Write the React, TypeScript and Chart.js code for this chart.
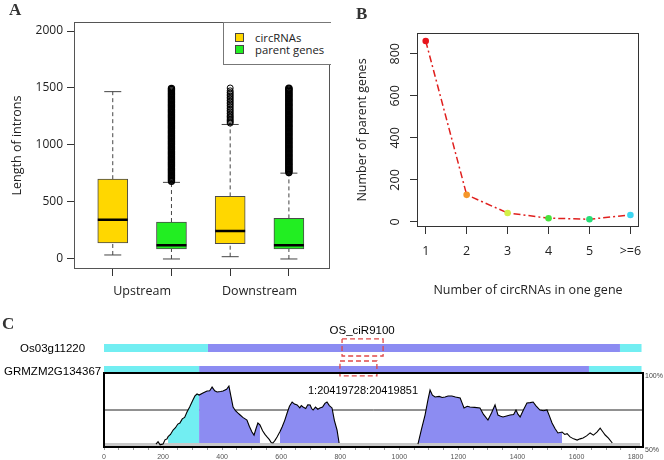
import React, { useEffect, useRef } from 'react';
import { Chart, registerables } from 'chart.js';
Chart.register(...registerables);

const SANS = '"Open Sans", "DejaVu Sans", sans-serif';
const ARIAL = '"Liberation Sans", Arial, sans-serif';
const SERIF = '"Liberation Serif", "DejaVu Serif", serif';

// ---------------- Panel A: intron length box plots ----------------
const A_GROUPS = ['Upstream', 'Downstream'];
const A_SERIES = ['circRNAs', 'parent genes'];
const A_COLORS = ['#FFD700', '#22EE22'];
const A_BOX_SERIES = [0, 1, 0, 1];
const A_LOW = [35, 0, 20, 0];
const A_Q1 = [140, 88, 134, 88];
const A_MEDIAN = [344, 120, 245, 120];
const A_Q3 = [700, 324, 549, 356];
const A_HIGH = [1468, 672, 1180, 753];
const A_OUT_UP_CIRC: number[] = [];
const A_OUT_UP_PARENT = [682, 693, 705, 716, 728, 739, 751, 762, 774, 785, 797, 808, 820, 831, 843, 854, 866, 877, 889, 900, 912, 923, 935, 946, 958, 969, 981, 992, 1004, 1015, 1027, 1038, 1050, 1061, 1073, 1084, 1096, 1107, 1119, 1130, 1142, 1153, 1165, 1176, 1188, 1199, 1211, 1222, 1234, 1245, 1257, 1268, 1280, 1291, 1303, 1314, 1326, 1337, 1349, 1360, 1372, 1383, 1395, 1406, 1418, 1429, 1441, 1452, 1464, 1475, 1487, 1497];
const A_OUT_DOWN_CIRC = [1192, 1203, 1214, 1226, 1238, 1250, 1262, 1276, 1290, 1304, 1318, 1333, 1348, 1362, 1376, 1390, 1404, 1418, 1432, 1446, 1460, 1475, 1500];
const A_OUT_DOWN_PARENT = [758, 769, 781, 792, 804, 815, 827, 838, 850, 861, 873, 884, 896, 907, 919, 930, 942, 953, 965, 976, 988, 999, 1011, 1022, 1034, 1045, 1057, 1068, 1080, 1091, 1103, 1114, 1126, 1137, 1149, 1160, 1172, 1183, 1195, 1206, 1218, 1229, 1241, 1252, 1264, 1275, 1287, 1298, 1310, 1321, 1333, 1344, 1356, 1367, 1379, 1390, 1402, 1413, 1425, 1436, 1448, 1459, 1471, 1482, 1492, 1499];
const A_OUTLIERS = [A_OUT_UP_CIRC, A_OUT_UP_PARENT, A_OUT_DOWN_CIRC, A_OUT_DOWN_PARENT];
const A_Y_TICKS = [0, 500, 1000, 1500, 2000];
const A_Y_TITLE = 'Length of introns';

// ---------------- Panel B: circRNAs per parent gene ----------------
const B_LABELS = ['1', '2', '3', '4', '5', '>=6'];
const B_VALUES = [861, 129, 43, 18, 13, 33];
const B_COLORS = ['#E8141C', '#F5962A', '#D2F048', '#48E23C', '#26DE78', '#3CD6F2'];
const B_Y_TICKS = [0, 200, 400, 600, 800];
const B_X_TITLE = 'Number of circRNAs in one gene';
const B_Y_TITLE = 'Number of parent genes';

// ---------------- Panel C: conservation plot ----------------
const C_GENES = ['Os03g11220', 'GRMZM2G134367'];
const C_GENE1_BOUNDS = [0, 352, 1747, 1820]; // UTR | CDS | UTR
const C_GENE2_BOUNDS = [0, 322, 1642, 1820];
const C_CIRC_NAME = 'OS_ciR9100';
const C_CIRC_LOCUS = '1:20419728:20419851';
const C_CIRC_SPAN1 = [806, 945];
const C_CIRC_SPAN2 = [799, 924];
const C_POS = [176, 183, 190, 200, 207, 213, 217, 225, 234, 242, 250, 257, 265, 273, 281, 290, 301, 308, 315, 322, 335, 349, 358, 366, 375, 383, 395, 403, 415, 423, 430, 437, 445, 453, 461, 470, 478, 484, 492, 501, 508, 514, 521, 528, 537, 545, 552, 560, 566, 572, 579, 586, 596, 603, 612, 620, 628, 637, 645, 654, 663, 668, 674, 683, 690, 698, 703, 708, 716, 724, 731, 740, 748, 755, 763, 772, 780, 789, 796, 930, 1063, 1075, 1087, 1097, 1104, 1112, 1121, 1135, 1145, 1155, 1165, 1178, 1190, 1206, 1212, 1219, 1230, 1239, 1255, 1273, 1285, 1300, 1312, 1324, 1334, 1343, 1351, 1363, 1375, 1387, 1395, 1402, 1409, 1420, 1432, 1443, 1453, 1462, 1476, 1488, 1500, 1508, 1517, 1527, 1537, 1551, 1560, 1568, 1578, 1590, 1602, 1612, 1622, 1634, 1646, 1657, 1669, 1680, 1690, 1697, 1708, 1721];
const C_PCT: (number | null)[] = [52.0, 53.6, 51.5, 52.0, 55.0, 55.4, 57.0, 58.5, 61.5, 63.0, 65.5, 66.2, 69.0, 70.0, 73.6, 77.0, 81.8, 84.5, 85.8, 85.1, 86.5, 87.8, 88.0, 90.5, 88.0, 87.2, 87.5, 87.8, 89.0, 91.2, 84.0, 77.0, 74.5, 73.0, 71.6, 70.0, 69.0, 68.2, 64.0, 60.1, 58.0, 62.0, 66.2, 64.9, 61.0, 58.5, 56.8, 55.0, 53.0, 52.7, 54.5, 56.8, 60.5, 63.5, 68.0, 73.0, 77.5, 80.4, 79.0, 78.4, 76.5, 78.0, 77.0, 76.0, 78.5, 78.4, 76.0, 75.0, 77.0, 75.5, 76.4, 77.0, 79.5, 80.4, 78.0, 76.4, 68.0, 61.5, 52.7, null, 52.0, 62.0, 71.6, 82.0, 88.5, 85.0, 83.8, 84.2, 83.5, 83.8, 84.5, 84.5, 83.8, 83.1, 80.0, 76.4, 77.5, 77.0, 76.8, 76.4, 72.0, 68.2, 73.0, 78.4, 71.6, 70.8, 70.3, 71.0, 71.6, 72.0, 75.0, 72.0, 70.3, 75.0, 79.7, 80.0, 80.4, 78.0, 75.0, 74.5, 75.0, 71.0, 66.2, 62.5, 59.5, 60.1, 58.5, 59.0, 56.8, 55.5, 54.7, 55.5, 56.1, 57.5, 59.5, 58.0, 60.1, 62.8, 60.0, 58.1, 56.0, 52.7];
const C_FILL_SPANS = [[217, 322], [322, 528], [596, 796], [1063, 1551]];
const C_FILL_KIND = ['utr', 'cds', 'cds', 'cds'];
const C_X_LABEL_STEP = 200;
const C_X_MINOR_STEP = 50;
const C_X_LAST_TICK = 1800;
const C_Y_LABELS = [50, 100];

const UTR_COLOR = '#72EEF2';
const CDS_COLOR = '#8C8CF2';

function framePlugin(id: string, color: string, width: number, yRange?: [number, number]) {
  return {
    id,
    afterDatasetsDraw(chart: any) {
      const { ctx, chartArea } = chart;
      let top = chartArea.top;
      let bottom = chartArea.bottom;
      if (yRange) {
        top = chart.scales.y.getPixelForValue(yRange[1]);
        bottom = chart.scales.y.getPixelForValue(yRange[0]);
      }
      ctx.save();
      ctx.strokeStyle = color;
      ctx.lineWidth = width;
      const off = width % 2 === 1 ? 0.5 : 0;
      ctx.strokeRect(Math.round(chartArea.left) + off, Math.round(top) + off,
        Math.round(chartArea.right - chartArea.left) - 2 * off, Math.round(bottom - top) - 2 * off);
      ctx.restore();
    },
  };
}

function textPlugin(id: string, items: { text: string; x: number; y: number; font: string; color: string }[]) {
  return {
    id,
    afterDraw(chart: any) {
      const { ctx } = chart;
      const xs = chart.scales.x;
      const ys = chart.scales.y;
      ctx.save();
      items.forEach((it) => {
        ctx.font = it.font;
        ctx.fillStyle = it.color;
        ctx.textAlign = 'center';
        ctx.textBaseline = 'middle';
        ctx.fillText(it.text, xs.getPixelForValue(it.x), ys.getPixelForValue(it.y));
      });
      ctx.restore();
    },
  };
}

// y tick labels written along the axis (rotated), placed from the y scale
function rotatedYLabelsPlugin(id: string, values: number[], font: string, color: string, gap: number) {
  return {
    id,
    afterDraw(chart: any) {
      const { ctx, chartArea } = chart;
      const ys = chart.scales.y;
      ctx.save();
      ctx.font = font;
      ctx.fillStyle = color;
      ctx.textAlign = 'center';
      ctx.textBaseline = 'middle';
      values.forEach((v) => {
        ctx.save();
        ctx.translate(chartArea.left - gap, ys.getPixelForValue(v));
        ctx.rotate(-Math.PI / 2);
        ctx.fillText(String(v), 0, 0);
        ctx.restore();
      });
      ctx.restore();
    },
  };
}

function makeA() {
  const hw = 0.255;
  const capHw = 0.145;
  const pos = A_LOW.map((_, i) => i + 1);
  const bars = A_SERIES.map((name, s) => ({
    type: 'bar',
    label: name,
    data: pos.filter((_, i) => A_BOX_SERIES[i] === s).map((p) => ({ x: p, y: [A_Q1[p - 1], A_Q3[p - 1]] })),
    backgroundColor: A_COLORS[s],
    borderColor: '#4a4a4a',
    borderWidth: 1,
    borderSkipped: false,
    barThickness: 30,
    grouped: false,
    order: 3,
  }));
  const medians = pos.flatMap((p, i) => [
    { x: p - hw, y: A_MEDIAN[i] }, { x: p + hw, y: A_MEDIAN[i] }, { x: p + 0.5, y: null },
  ]);
  const whiskers = pos.flatMap((p, i) => [
    { x: p, y: A_Q3[i] }, { x: p, y: A_HIGH[i] }, { x: p + 0.01, y: null },
    { x: p, y: A_LOW[i] }, { x: p, y: A_Q1[i] }, { x: p + 0.02, y: null },
  ]);
  const caps = pos.flatMap((p, i) => [
    { x: p - capHw, y: A_HIGH[i] }, { x: p + capHw, y: A_HIGH[i] }, { x: p + 0.3, y: null },
    { x: p - capHw, y: A_LOW[i] }, { x: p + capHw, y: A_LOW[i] }, { x: p + 0.4, y: null },
  ]);
  // circRNA outliers are sparse (open rings); parent-gene outliers are dense (solid columns)
  const outlierSets = A_SERIES.map((name, s) => ({
    type: 'scatter',
    label: name + ' outliers',
    data: pos.flatMap((p, i) => (A_BOX_SERIES[i] === s ? A_OUTLIERS[i].map((v) => ({ x: p, y: v })) : [])),
    pointRadius: 3,
    pointBorderWidth: s === 0 ? 1 : 1.4,
    pointBorderColor: '#000',
    pointBackgroundColor: 'rgba(0,0,0,0)',
    order: 2,
  }));
  const groupTicks = A_GROUPS.map((_, g) => 2 * g + 1.5);
  return {
    type: 'bar',
    data: {
      datasets: [
        ...bars,
        { type: 'line', label: 'median', data: medians, borderColor: '#000', borderWidth: 2.6, pointRadius: 0, spanGaps: false, order: 1 },
        { type: 'line', label: 'whisker', data: whiskers, borderColor: '#444', borderWidth: 1, borderDash: [4, 3], pointRadius: 0, spanGaps: false, order: 4 },
        { type: 'line', label: 'cap', data: caps, borderColor: '#444', borderWidth: 1, pointRadius: 0, spanGaps: false, order: 4 },
        ...outlierSets,
      ],
    },
    options: {
      responsive: false,
      animation: false,
      devicePixelRatio: 1,
      layout: { padding: { top: 22, right: 10, left: 0, bottom: 0 } },
      plugins: { legend: { display: false }, tooltip: { enabled: false } },
      scales: {
        x: {
          type: 'linear', min: 0.34, max: 4.7, offset: false,
          afterBuildTicks: (s: any) => {
            const t = [...pos, ...groupTicks].sort((a, b) => a - b);
            s.ticks = t.map((v) => ({ value: v }));
          },
          afterFit: (s: any) => { s.height = 31; },
          ticks: {
            autoSkip: false, maxRotation: 0, minRotation: 0, padding: 8,
            font: { family: SANS, size: 12.5 }, color: '#222',
            callback: (v: number) => {
              const g = groupTicks.indexOf(v);
              return g >= 0 ? A_GROUPS[g] : '';
            },
          },
          grid: {
            offset: false, drawOnChartArea: false, tickLength: 7,
            tickColor: (ctx: any) => (ctx.tick && Number.isInteger(ctx.tick.value) ? '#333' : 'rgba(0,0,0,0)'),
          },
          border: { display: false },
        },
        y: {
          type: 'linear', min: -88, max: 2079,
          afterBuildTicks: (s: any) => { s.ticks = A_Y_TICKS.map((v) => ({ value: v })); },
          afterFit: (s: any) => { s.width = 74; },
          ticks: { padding: 4, font: { family: SANS, size: 12 }, color: '#222', callback: (v: number) => String(v) },
          grid: { drawOnChartArea: false, tickLength: 7, color: '#333' },
          border: { display: false },
          title: { display: true, text: A_Y_TITLE, font: { family: SANS, size: 12.5 }, color: '#222', padding: { top: 10, bottom: 0 } },
        },
      },
    },
    plugins: [framePlugin('frameA', '#555', 1)],
  };
}

function makeB() {
  return {
    type: 'line',
    data: {
      datasets: [{
        data: B_VALUES.map((v, i) => ({ x: i + 1, y: v })),
        borderColor: '#E0201E',
        borderWidth: 1.5,
        borderDash: [7, 3, 2, 3],
        pointBackgroundColor: B_COLORS,
        pointBorderColor: B_COLORS,
        pointRadius: 3.3,
        pointBorderWidth: 0,
        tension: 0,
      }],
    },
    options: {
      responsive: false,
      animation: false,
      devicePixelRatio: 1,
      layout: { padding: { top: 33, right: 25, left: 0, bottom: 0 } },
      plugins: { legend: { display: false }, tooltip: { enabled: false } },
      scales: {
        x: {
          type: 'linear', min: 0.787, max: 6.21,
          afterBuildTicks: (s: any) => { s.ticks = B_LABELS.map((_, i) => ({ value: i + 1 })); },
          afterFit: (s: any) => { s.height = 73; },
          ticks: {
            autoSkip: false, maxRotation: 0, minRotation: 0, padding: 10,
            font: { family: SANS, size: 12.5 }, color: '#222',
            callback: (_v: number, i: number) => B_LABELS[i],
          },
          grid: { drawOnChartArea: false, tickLength: 7, color: '#333' },
          border: { display: false },
          title: { display: true, text: B_X_TITLE, font: { family: SANS, size: 12.5 }, color: '#222', padding: { top: 0, bottom: 2 } },
        },
        y: {
          type: 'linear', min: -23.9, max: 898.8,
          afterBuildTicks: (s: any) => { s.ticks = B_Y_TICKS.map((v) => ({ value: v })); },
          afterFit: (s: any) => { s.width = 77; },
          ticks: { display: false },
          grid: { drawOnChartArea: false, tickLength: 7, color: '#333' },
          border: { display: false },
          title: { display: true, text: B_Y_TITLE, font: { family: SANS, size: 12.5 }, color: '#222', padding: { top: 15, bottom: 0 } },
        },
      },
    },
    plugins: [framePlugin('frameB', '#333', 1), rotatedYLabelsPlugin('yLabelsB', B_Y_TICKS, `12.5px ${SANS}`, '#222', 22)],
  };
}

function makeC() {
  const yMax = 134.46;
  const gene1Y = 116.9;
  const gene2Y = 102.4;
  const curve = C_POS.map((x, i) => ({ x, y: C_PCT[i] }));
  const fills = C_FILL_SPANS.map(([a, b], k) => ({
    label: 'fill' + k,
    data: curve.filter((p) => p.x >= a && p.x <= b && p.y !== null),
    backgroundColor: C_FILL_KIND[k] === 'utr' ? UTR_COLOR : CDS_COLOR,
    borderWidth: 0,
    pointRadius: 0,
    fill: { value: 50 },
    order: 3,
  }));
  const geneBars = [
    { bounds: C_GENE1_BOUNDS, y: gene1Y, w: 8 },
    { bounds: C_GENE2_BOUNDS, y: gene2Y, w: 7 },
  ].flatMap((g) => [0, 1, 2].map((k) => ({
    label: 'gene',
    data: [{ x: g.bounds[k], y: g.y }, { x: g.bounds[k + 1], y: g.y }],
    borderColor: k === 1 ? CDS_COLOR : UTR_COLOR,
    borderWidth: g.w,
    borderCapStyle: 'butt',
    pointRadius: 0,
    order: 4,
  })));
  const rect = (span: number[], top: number, bottom: number) => [
    { x: span[0], y: top }, { x: span[1], y: top }, { x: span[1], y: bottom }, { x: span[0], y: bottom }, { x: span[0], y: top },
  ];
  const circBoxes = [rect(C_CIRC_SPAN1, 123.0, 111.5), rect(C_CIRC_SPAN2, 108.1, 98.0)].map((d) => ({
    label: 'circ',
    data: d,
    borderColor: '#E04848',
    borderWidth: 1.3,
    borderDash: [5, 3],
    pointRadius: 0,
    order: 0,
  }));
  const texts = [
    { text: C_CIRC_NAME, x: 874, y: 128.4, font: `11.5px ${ARIAL}`, color: '#000' },
    { text: C_CIRC_LOCUS, x: 877, y: 87.8, font: `11px ${ARIAL}`, color: '#000' },
    { text: C_GENES[0], x: -174, y: gene1Y - 0.5, font: `11.5px ${ARIAL}`, color: '#000' },
    { text: C_GENES[1], x: -174, y: gene2Y - 1.5, font: `11.5px ${ARIAL}`, color: '#000' },
  ];
  return {
    type: 'line',
    data: {
      datasets: [
        { label: 'conservation', data: curve, borderColor: '#000', borderWidth: 1.1, pointRadius: 0, spanGaps: false, fill: false, order: 0 },
        { label: 'base', data: [{ x: 0, y: 51.35 }, { x: 1815, y: 51.35 }], borderColor: '#C8C8C8', borderWidth: 4, pointRadius: 0, borderCapStyle: 'butt', order: 1 },
        ...fills,
        { label: 'mid', data: [{ x: 0, y: 75 }, { x: 1825, y: 75 }], borderColor: '#222', borderWidth: 1, pointRadius: 0, order: 5 },
        ...geneBars,
        ...circBoxes,
      ],
    },
    options: {
      responsive: false,
      animation: false,
      devicePixelRatio: 1,
      layout: { padding: { top: 12, right: 0, left: 104, bottom: 0 } },
      plugins: { legend: { display: false }, tooltip: { enabled: false } },
      scales: {
        x: {
          type: 'linear', min: 0, max: 1825,
          afterBuildTicks: (s: any) => {
            const t: { value: number }[] = [];
            for (let v = 0; v <= C_X_LAST_TICK; v += C_X_MINOR_STEP) t.push({ value: v });
            s.ticks = t;
          },
          afterFit: (s: any) => { s.height = 13; },
          ticks: {
            autoSkip: false, maxRotation: 0, minRotation: 0, padding: 3,
            font: { family: ARIAL, size: 7 }, color: '#555',
            callback: (v: number) => (v % C_X_LABEL_STEP === 0 ? String(v) : ''),
          },
          grid: { drawOnChartArea: false, tickLength: 3, color: '#999' },
          border: { display: false },
        },
        y: { type: 'linear', min: 50, max: yMax, display: false },
        y2: {
          type: 'linear', position: 'right', min: 50, max: yMax,
          afterBuildTicks: (s: any) => { s.ticks = C_Y_LABELS.map((v) => ({ value: v })); },
          afterFit: (s: any) => { s.width = 21; },
          ticks: { font: { family: ARIAL, size: 7 }, color: '#444', padding: 2, labelOffset: 3, callback: (v: number) => v + '%' },
          grid: { display: false, drawTicks: false },
          border: { display: false },
        },
      },
    },
    plugins: [framePlugin('frameC', '#000', 2, [50, 100]), textPlugin('textC', texts)],
  };
}

function ChartBox({ make, left, top, width, height }: { make: () => any; left: number; top: number; width: number; height: number }) {
  const ref = useRef<HTMLCanvasElement>(null);
  useEffect(() => {
    const chart = new Chart(ref.current as HTMLCanvasElement, make());
    return () => chart.destroy();
  }, []);
  return (
    <div style={{ position: 'absolute', left, top, width, height }}>
      <canvas ref={ref} width={width} height={height} style={{ display: 'block', width, height }} />
    </div>
  );
}

const letterStyle = (left: number, top: number): React.CSSProperties => ({
  position: 'absolute', left, top, font: `bold 17px ${SERIF}`, color: '#333', lineHeight: '17px',
});

export default function App() {
  return (
    <div style={{ position: 'fixed', left: 0, top: 0, width: 664, height: 460, background: '#fff', overflow: 'hidden' }}>
      <ChartBox make={makeA} left={0} top={0} width={340} height={300} />
      <ChartBox make={makeB} left={340} top={0} width={324} height={300} />
      <ChartBox make={makeC} left={0} top={310} width={664} height={150} />
      <div style={letterStyle(9, 1)}>A</div>
      <div style={letterStyle(356, 5)}>B</div>
      <div style={letterStyle(2, 315)}>C</div>
      <div style={{ position: 'absolute', left: 223, top: 22, width: 107, height: 41, border: '1px solid #777', borderRight: 'none', background: '#fff', font: `11.3px ${SANS}`, color: '#222' }}>
        {A_SERIES.map((name, s) => (
          <div key={name} style={{ position: 'absolute', left: 11, top: 8 + s * 12, height: 12, display: 'flex', alignItems: 'center', whiteSpace: 'nowrap' }}>
            <span style={{ display: 'inline-block', width: 7, height: 7, background: A_COLORS[s], border: '1px solid #444', marginRight: 11 }} />
            <span>{name}</span>
          </div>
        ))}
      </div>
    </div>
  );
}
